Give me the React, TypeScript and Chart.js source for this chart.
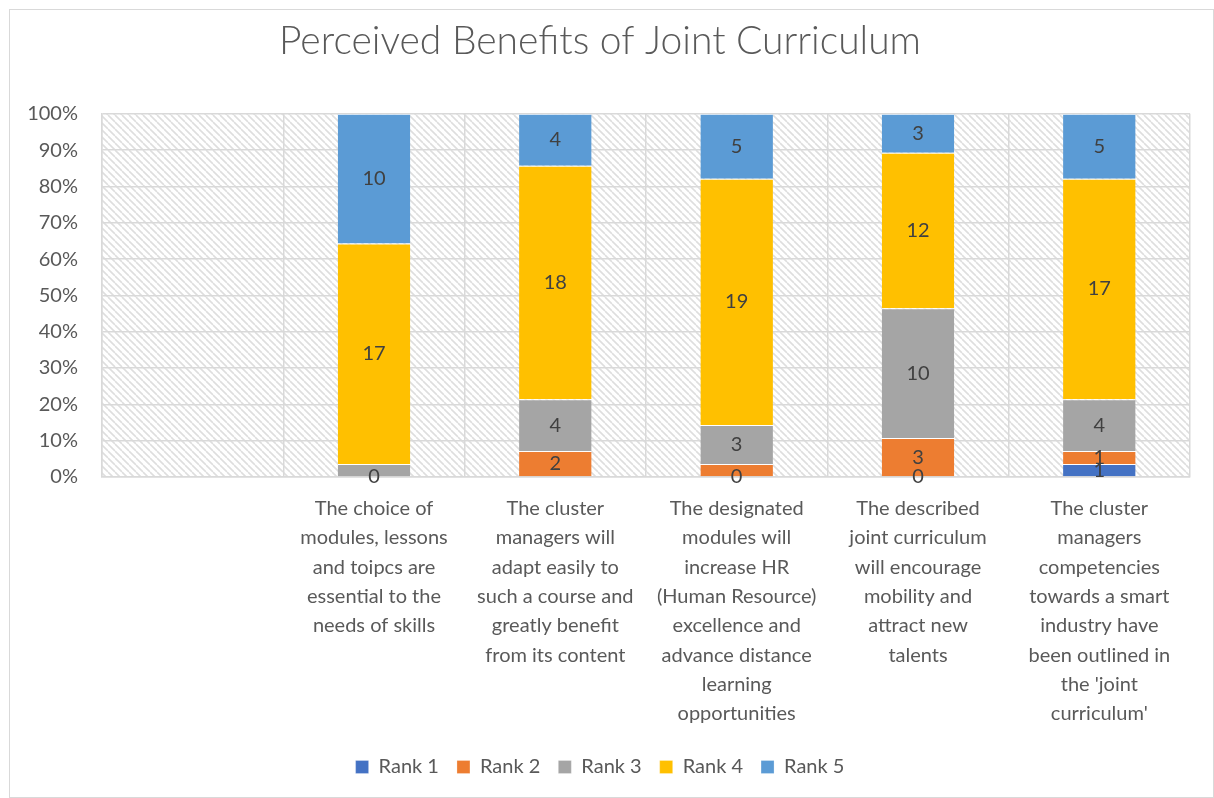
import React, { useEffect, useRef } from "react";
import { Chart, registerables } from "chart.js";

Chart.register(...registerables);

// ---------- data ----------
const categories: string[][] = [
  [""],
  ["The choice of", "modules, lessons", "and toipcs are", "essential to the", "needs of skills"],
  ["The cluster", "managers will", "adapt easily to", "such a course and", "greatly benefit", "from its content"],
  ["The designated", "modules will", "increase HR", "(Human Resource)", "excellence and", "advance distance", "learning", "opportunities"],
  ["The described", "joint curriculum", "will encourage", "mobility and", "attract new", "talents"],
  ["The cluster", "managers", "competencies", "towards a smart", "industry have", "been outlined in", "the 'joint", "curriculum'"],
];

const seriesNames = ["Rank 1", "Rank 2", "Rank 3", "Rank 4", "Rank 5"];
const rank1 = [0, 0, 0, 0, 0, 1];
const rank2 = [0, 0, 2, 1, 3, 1];
const rank3 = [0, 1, 4, 3, 10, 4];
const rank4 = [0, 17, 18, 19, 12, 17];
const rank5 = [0, 10, 4, 5, 3, 5];
const seriesColors = ["#4472C4", "#ED7D31", "#A5A5A5", "#FFC000", "#5B9BD5"];

const yTickValues = [0, 10, 20, 30, 40, 50, 60, 70, 80, 90, 100];
// value labels that are not shown in the original ("series-category")
const hiddenLabels = ["0-2", "1-1", "1-3", "2-1"];

const title = "Perceived Benefits of Joint Curriculum";

// ---------- helpers ----------
const seriesValues = [rank1, rank2, rank3, rank4, rank5];
const totals = categories.map((_, ci) =>
  seriesValues.reduce((s, arr) => s + arr[ci], 0)
);

const FONT = "Lato, 'Open Sans', sans-serif";
const TEXT = "#595959";
const GRID = "#d9d9d9";

function makePattern(ctx: CanvasRenderingContext2D): CanvasPattern | string {
  const s = 7;
  const c = document.createElement("canvas");
  c.width = s;
  c.height = s;
  const p = c.getContext("2d");
  if (!p) return "#ffffff";
  p.fillStyle = "#ffffff";
  p.fillRect(0, 0, s, s);
  p.strokeStyle = "#dedede";
  p.lineWidth = 1.6;
  for (let k = -1; k <= 1; k++) {
    p.beginPath();
    p.moveTo(k * s, 0);
    p.lineTo(k * s + s, s);
    p.stroke();
  }
  return ctx.createPattern(c, "repeat") || "#ffffff";
}

const patternPlugin = {
  id: "hatchBg",
  beforeDraw(chart: any) {
    const { ctx, chartArea } = chart;
    if (!chartArea) return;
    ctx.save();
    ctx.fillStyle = makePattern(ctx);
    ctx.fillRect(
      chartArea.left,
      chartArea.top,
      chartArea.right - chartArea.left,
      chartArea.bottom - chartArea.top
    );
    ctx.restore();
  },
};

const labelPlugin = {
  id: "valueLabels",
  afterDatasetsDraw(chart: any) {
    const ctx = chart.ctx;
    ctx.save();
    ctx.font = `20px ${FONT}`;
    ctx.fillStyle = "#404040";
    ctx.textAlign = "center";
    ctx.textBaseline = "middle";
    chart.data.datasets.forEach((_ds: any, di: number) => {
      const meta = chart.getDatasetMeta(di);
      meta.data.forEach((bar: any, ci: number) => {
        if (totals[ci] === 0) return;
        if (hiddenLabels.includes(`${di}-${ci}`)) return;
        const { x, y, base } = bar.getProps(["x", "y", "base"], true);
        ctx.fillText(String(seriesValues[di][ci]), x, (y + base) / 2);
      });
    });
    ctx.restore();
  },
};

export default function App() {
  const canvasRef = useRef<HTMLCanvasElement | null>(null);

  useEffect(() => {
    if (!canvasRef.current) return;
    const datasets = seriesNames.map((name, si) => ({
      label: name,
      data: seriesValues[si].map((v, ci) =>
        totals[ci] === 0 ? 0 : (v / totals[ci]) * 100
      ),
      backgroundColor: seriesColors[si],
      borderColor: "#ffffff",
      borderWidth: { top: 1, left: 0, right: 0, bottom: 0 },
      borderSkipped: "start" as const,
      categoryPercentage: 0.4,
      barPercentage: 1,
    }));

    const chart = new Chart(canvasRef.current, {
      type: "bar",
      data: { labels: categories, datasets },
      plugins: [patternPlugin, labelPlugin],
      options: {
        animation: false,
        responsive: false,
        maintainAspectRatio: false,
        layout: { padding: { left: 0, right: 23, top: 0, bottom: 10 } },
        plugins: {
          title: {
            display: true,
            text: title,
            color: TEXT,
            font: { family: FONT, size: 39, weight: "300" as any, lineHeight: 1.2 },
            padding: { top: 8, bottom: 49 },
          },
          legend: {
            position: "bottom",
            labels: {
              color: TEXT,
              font: { family: FONT, size: 20 },
              boxWidth: 13,
              boxHeight: 13,
              padding: 18,
            },
          },
          tooltip: { enabled: false },
        },
        scales: {
          x: {
            stacked: true,
            grid: {
              color: GRID,
              lineWidth: 1.5,
              drawTicks: false,
              offset: true,
            },
            border: { color: GRID, width: 1.5 },
            ticks: {
              color: TEXT,
              font: { family: FONT, size: 20, lineHeight: 1.465 },
              autoSkip: false,
              maxRotation: 0,
              minRotation: 0,
              padding: 17,
            },
            afterFit(scale: any) {
              scale.height = 262;
            },
          },
          y: {
            stacked: true,
            min: 0,
            max: 100,
            afterBuildTicks(scale: any) {
              scale.ticks = yTickValues.map((v) => ({ value: v }));
            },
            grid: { color: GRID, lineWidth: 1.5, drawTicks: false },
            border: { color: GRID, width: 1.5 },
            ticks: {
              color: TEXT,
              font: { family: FONT, size: 20 },
              padding: 24,
              callback: (v: any) => `${v}%`,
            },
            afterFit(scale: any) {
              scale.width = 92;
            },
          },
        },
      },
    });
    return () => chart.destroy();
  }, []);

  return (
    <div
      style={{
        position: "absolute",
        left: 9,
        top: 9,
        width: 1203,
        height: 787,
        border: "1px solid #d9d9d9",
        background: "#ffffff",
        overflow: "hidden",
      }}
    >
      <canvas
        ref={canvasRef}
        width={1203}
        height={787}
        style={{ display: "block", width: 1203, height: 787 }}
      />
    </div>
  );
}
